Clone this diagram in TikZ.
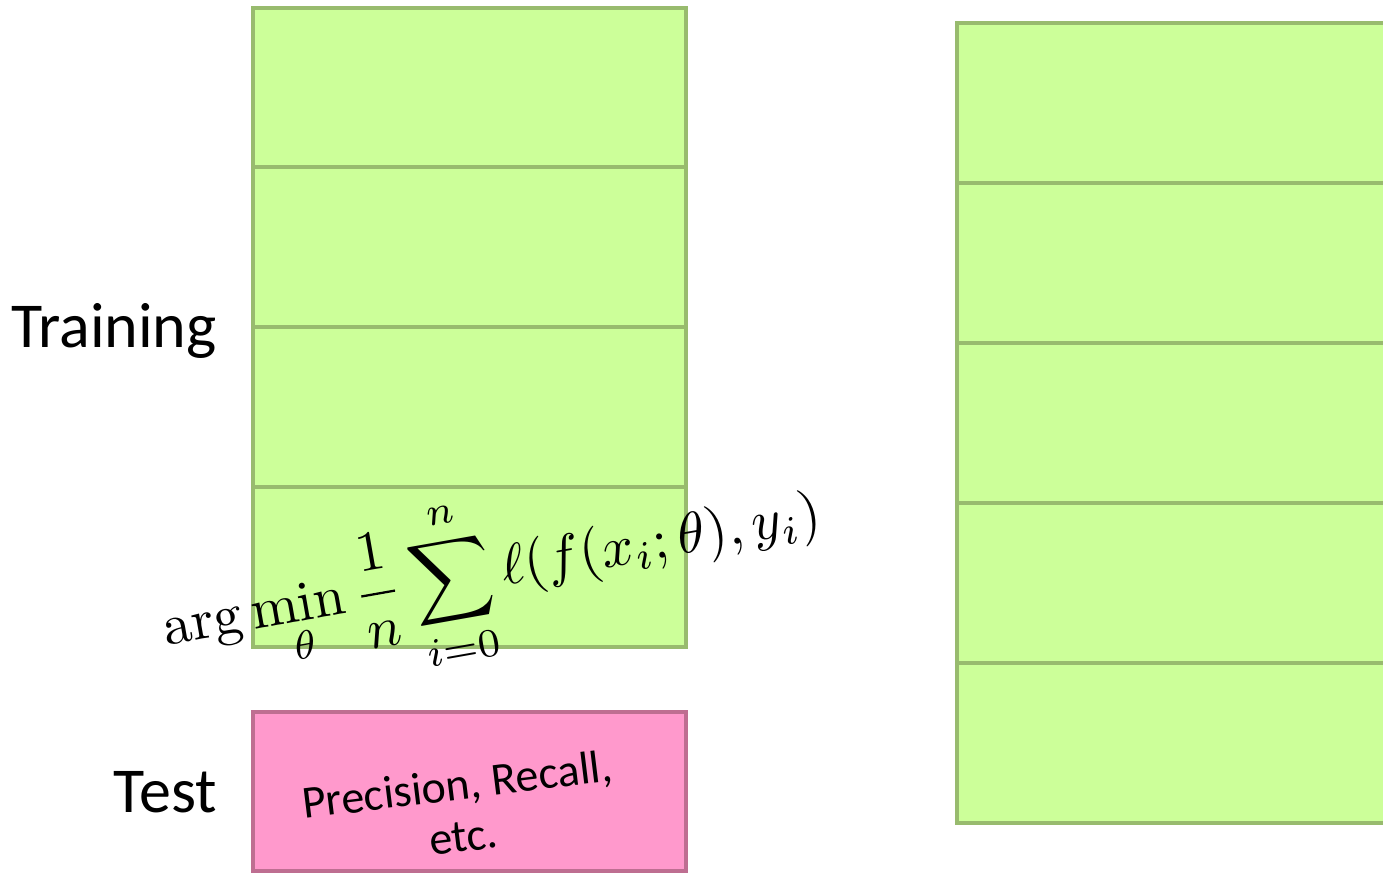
\documentclass[tikz,border=0pt]{standalone}
\usepackage{fontspec}
\usepackage{amsmath}
\newfontfamily\calfont{Carlito}
\definecolor{cellfill}{HTML}{CCFF99}
\definecolor{cellline}{HTML}{98BB6E}
\definecolor{testfill}{HTML}{FF99CC}
\definecolor{testline}{RGB}{190,110,145}
\tikzset{
  cell/.style={draw=cellline, fill=cellfill, line width=4pt, rectangle, inner sep=0pt, outer sep=0pt,
    minimum width=433pt, minimum height=160pt, anchor=north west},
  rcell/.style={cell, minimum width=470pt},
  testbox/.style={draw=testline, fill=testfill, line width=4pt, rectangle, inner sep=0pt, outer sep=0pt,
    minimum width=433pt, minimum height=159pt, anchor=north west},
  lbl/.style={font=\calfont\fontsize{64}{64}\selectfont, inner sep=0pt, anchor=base east},
}
\begin{document}
\begin{tikzpicture}[x=1pt,y=-1pt]
\useasboundingbox (0,0) rectangle (1383,873);
\clip (0,0) rectangle (1383,873);
% left training column
\node[cell] (l1) at (253,8) {};
\node[cell] (l2) at (253,167) {};
\node[cell] (l3) at (253,327) {};
\node[cell] (l4) at (253,487) {};
% test box
\node[testbox] (test) at (253,712) {};
% right column
\node[rcell] (r1) at (957,23) {};
\node[rcell] (r2) at (957,183) {};
\node[rcell] (r3) at (957,343) {};
\node[rcell] (r4) at (957,503) {};
\node[rcell] (r5) at (957,663) {};
% labels
\node[lbl] (training) at (217,347) {Training};
\node[lbl] (testlbl) at (217,812) {Test};
\node[font=\calfont\fontsize{46}{52}\selectfont, align=center, rotate=7, inner sep=0pt]
  (metrics) at (460,810) {Precision, Recall,\\etc.};
\node[scale=5.7, rotate=10, inner sep=0pt] (formula) at (493,577)
  {$\displaystyle \arg\min_{\theta}\frac{1}{n}\sum_{i=0}^{n}\ell(f(x_i;\theta),y_i)$};
\end{tikzpicture}
\end{document}
